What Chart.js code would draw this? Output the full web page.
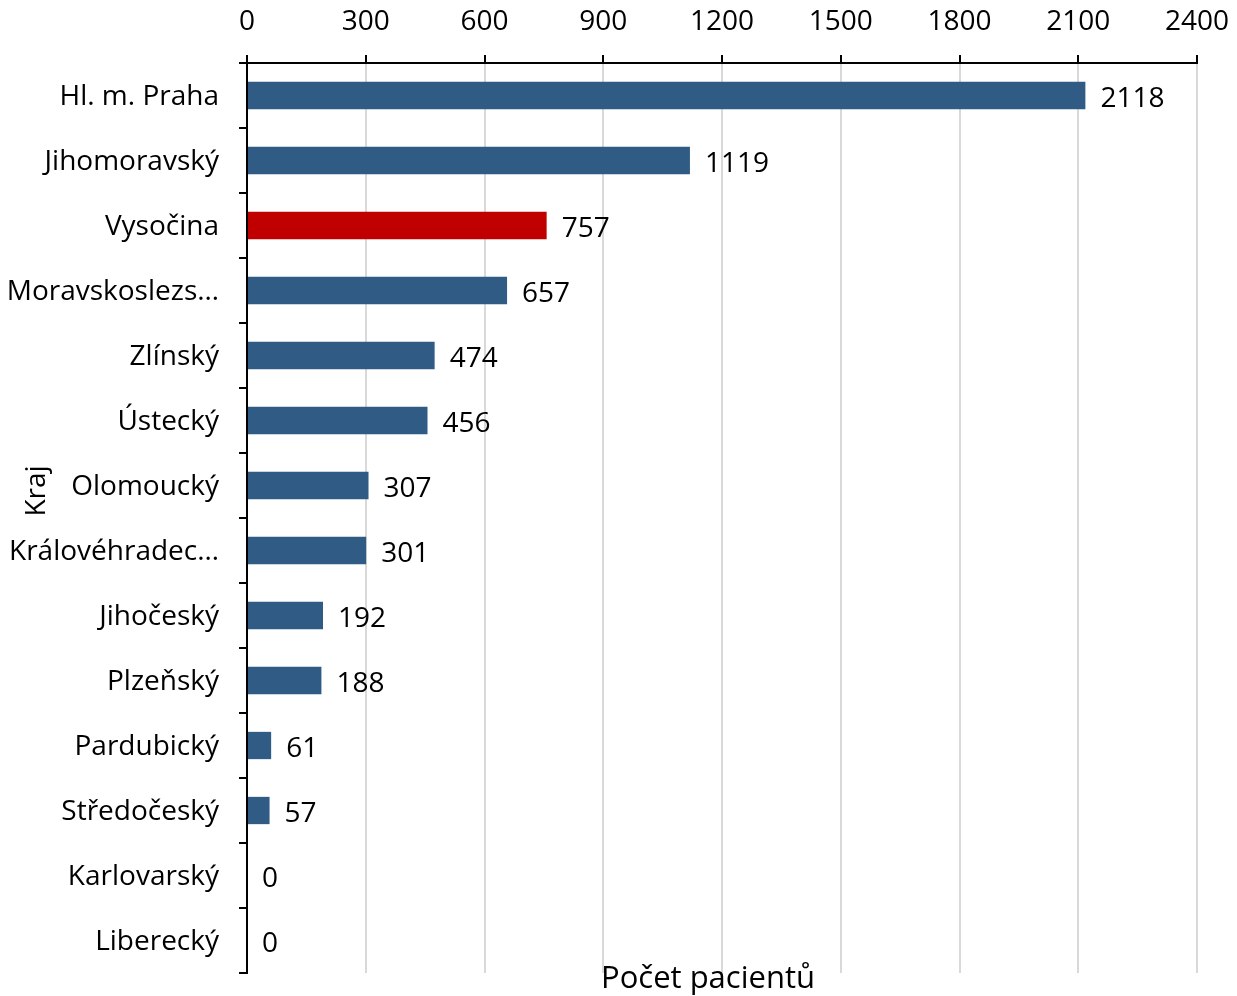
<!DOCTYPE html>
<html>
<head>
<meta charset="utf-8">
<script src="https://cdn.jsdelivr.net/npm/chart.js@4.4.1/dist/chart.umd.min.js"></script>
<style>
  body { margin: 0; background: #fff; }
  #wrap { width: 1237px; height: 996px; }
</style>
</head>
<body>
<div id="wrap"><canvas id="chart" width="1237" height="996"></canvas></div>
<script>
const regions = ["Hl. m. Praha", "Jihomoravský", "Vysočina", "Moravskoslezs…", "Zlínský", "Ústecký",
  "Olomoucký", "Královéhradec…", "Jihočeský", "Plzeňský", "Pardubický", "Středočeský", "Karlovarský", "Liberecký"];
const patients = [2118, 1119, 757, 657, 474, 456, 307, 301, 192, 188, 61, 57, 0, 0];
const highlight = "Vysočina";
const xTicks = [0, 300, 600, 900, 1200, 1500, 1800, 2100, 2400];

const FONT = "'Open Sans', sans-serif";
const SIZE = 28;
const blue = "#2f5b85";
const red = "#c00000";

// value labels next to bars + both axis titles
const labelsPlugin = {
  id: "valueLabels",
  afterDatasetsDraw(chart) {
    const ctx = chart.ctx;
    const meta = chart.getDatasetMeta(0);
    ctx.save();
    ctx.font = SIZE + "px " + FONT;
    ctx.fillStyle = "#000";
    ctx.textAlign = "left";
    ctx.textBaseline = "middle";
    meta.data.forEach((bar, i) => {
      ctx.fillText(String(patients[i]), bar.x + 15, bar.y + 4);
    });
    const area = chart.chartArea;
    ctx.textAlign = "center";
    ctx.translate(37, (area.top + area.bottom) / 2 - 27);
    ctx.rotate(-Math.PI / 2);
    ctx.fillText("Kraj", 0, 0);
    ctx.setTransform(1, 0, 0, 1, 0, 0);
    ctx.font = "31px " + FONT;
    ctx.fillText("Počet pacientů", (area.left + area.right) / 2 - 14, area.bottom + 6);
    ctx.restore();
  }
};

new Chart(document.getElementById("chart"), {
  type: "bar",
  data: {
    labels: regions,
    datasets: [{
      data: patients,
      backgroundColor: regions.map(r => r === highlight ? red : blue),
      barPercentage: 0.84,
      categoryPercentage: 0.5
    }]
  },
  options: {
    indexAxis: "y",
    responsive: false,
    animation: false,
    layout: { padding: { top: 0, right: 40, bottom: 23, left: 0 } },
    plugins: {
      legend: { display: false },
      tooltip: { enabled: false }
    },
    scales: {
      x: {
        position: "top",
        min: 0,
        max: 2400,
        afterBuildTicks: (axis) => { axis.ticks = xTicks.map(v => ({ value: v })); },
        afterFit: (axis) => { axis.height = 63; axis.paddingLeft = 0; axis.paddingRight = 0; },
        ticks: { color: "#000", font: { family: FONT, size: SIZE }, padding: 16, maxRotation: 0,
          callback: (v) => String(v) },
        grid: { color: "#d9d9d9", lineWidth: 2, tickColor: "#000", tickLength: 8 },
        border: { color: "#000", width: 2 }
      },
      y: {
        afterFit: (axis) => { axis.width = 247; axis.paddingTop = 0; axis.paddingBottom = 0; },
        ticks: { color: "#000", font: { family: FONT, size: SIZE }, padding: 20, autoSkip: false, labelOffset: 2 },
        grid: { drawOnChartArea: false, tickColor: "#000", tickLength: 8, lineWidth: 2 },
        border: { color: "#000", width: 2 }
      }
    }
  },
  plugins: [labelsPlugin]
});
</script>
</body>
</html>
